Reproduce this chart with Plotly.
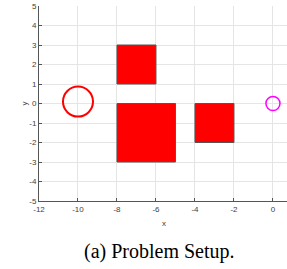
import plotly.graph_objects as go

# Obstacles (rectangles): x0, x1, y0, y1
rect_x0 = [-8, -8, -4]
rect_x1 = [-6, -5, -2]
rect_y0 = [1, -3, -2]
rect_y1 = [3, 0, 0]

# Start circle and goal circle
start_center = (-10, 0.1)
start_radius = 0.77
goal_center = (0, 0)
goal_radius = 0.36

x_ticks = [-12, -10, -8, -6, -4, -2, 0]
y_ticks = [-5, -4, -3, -2, -1, 0, 1, 2, 3, 4, 5]

fig = go.Figure()
fig.add_trace(go.Scatter(x=[None], y=[None], showlegend=False))

shapes = []
for a, b, c, d in zip(rect_x0, rect_x1, rect_y0, rect_y1):
    shapes.append(dict(type="rect", xref="x", yref="y", x0=a, x1=b, y0=c, y1=d,
                       fillcolor="#ff0000", line=dict(color="#555555", width=1), layer="above"))
shapes.append(dict(type="circle", xref="x", yref="y",
                   x0=start_center[0] - start_radius, x1=start_center[0] + start_radius,
                   y0=start_center[1] - start_radius, y1=start_center[1] + start_radius,
                   line=dict(color="#ff0000", width=2)))
shapes.append(dict(type="circle", xref="x", yref="y",
                   x0=goal_center[0] - goal_radius, x1=goal_center[0] + goal_radius,
                   y0=goal_center[1] - goal_radius, y1=goal_center[1] + goal_radius,
                   line=dict(color="#ff00ff", width=1.5)))

fig.update_layout(
    width=287, height=269,
    margin=dict(l=39, r=0, t=6, b=68, autoexpand=False),
    plot_bgcolor="white", paper_bgcolor="white",
    shapes=shapes,
    showlegend=False,
    font=dict(family="Liberation Sans", size=8, color="#404040"),
    annotations=[
        dict(text="(a) Problem Setup.", xref="paper", yref="paper", x=0.484, y=-0.26,
             xanchor="center", yanchor="middle", showarrow=False,
             font=dict(family="Liberation Serif", size=20, color="black")),
        dict(text="x", xref="paper", yref="paper", x=0.504, y=-0.113,
             xanchor="center", yanchor="middle", showarrow=False,
             font=dict(size=8, color="#404040")),
        dict(text="y", xref="paper", yref="paper", x=-0.06, y=0.5, textangle=-90,
             xanchor="center", yanchor="middle", showarrow=False,
             font=dict(size=8, color="#404040")),
    ],
)
fig.update_xaxes(range=[-12, 0.72], tickvals=x_ticks, ticktext=[str(v) for v in x_ticks],
                 automargin=False,
                 showgrid=True, gridcolor="#e5e5e5", gridwidth=1,
                 showline=True, linecolor="#555555", linewidth=1,
                 ticks="inside", ticklen=3, tickcolor="#555555", zeroline=False)
fig.update_yaxes(range=[-5, 5], tickvals=y_ticks, ticktext=[str(v) for v in y_ticks],
                 automargin=False,
                 showgrid=True, gridcolor="#e5e5e5", gridwidth=1,
                 showline=True, linecolor="#555555", linewidth=1,
                 ticks="inside", ticklen=3, tickcolor="#555555", zeroline=False)

fig.write_html("out.html", post_script="document.body.style.margin='0';",
               config={"displayModeBar": False})
